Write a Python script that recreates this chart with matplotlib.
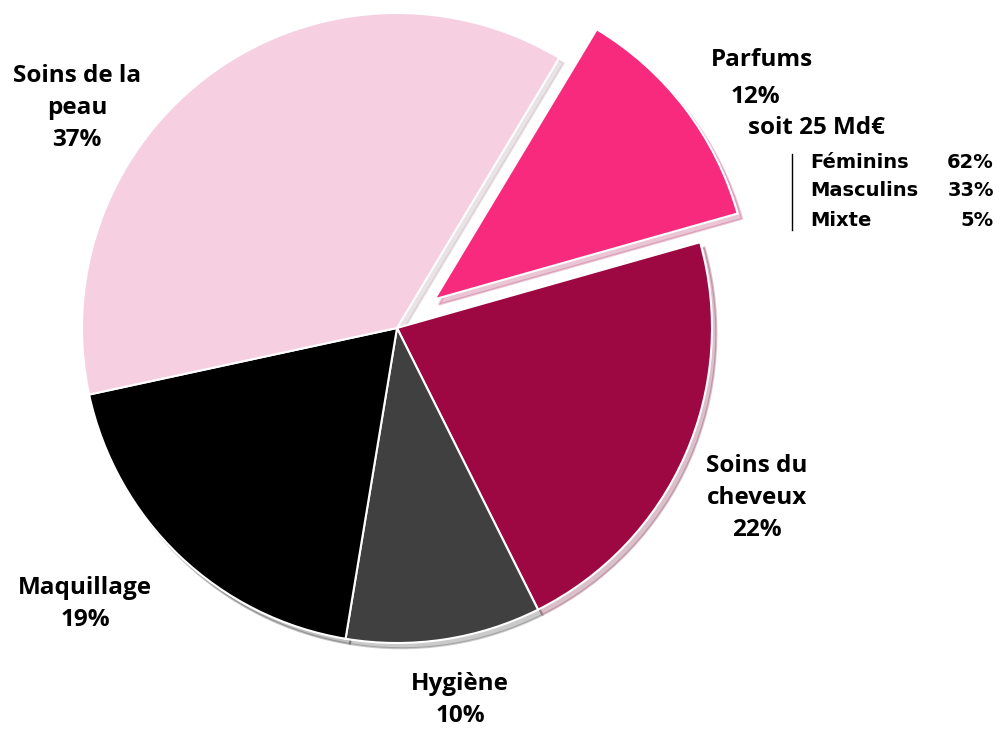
import matplotlib.pyplot as plt

# slices, clockwise from Parfums
labels = ['Parfums', 'Soins du\ncheveux', 'Hygiène', 'Maquillage', 'Soins de la\npeau']
shares = [12, 22, 10, 19, 37]
colors = ['#F72A7E', '#9E0842', '#404040', '#000000', '#F6CFE1']
explode = [0.15, 0, 0, 0, 0]

sub_labels = ['Féminins', 'Masculins', 'Mixte']
sub_shares = [62, 33, 5]

W, H = 1000, 729


def px(x, y):
    return x / W, 1 - y / H


fig = plt.figure(figsize=(10, 7.29), dpi=100)
cx, cy, r = 397, 328, 315
ax = fig.add_axes([(cx - r) / W, (H - cy - r) / H, 2 * r / W, 2 * r / H])
wedges, _ = ax.pie(shares, colors=colors, explode=explode, startangle=59,
                   counterclock=False, radius=1,
                   wedgeprops=dict(edgecolor='white', linewidth=1.5),
                   shadow=dict(ox=0.01, oy=-0.012, shade=0.3, alpha=0.25))
ax.set_xlim(-1, 1)
ax.set_ylim(-1, 1)
ax.set_aspect('equal')
ax.axis('off')

font = dict(family=['Open Sans', 'DejaVu Sans'], fontweight='bold', fontsize=17.5,
            ha='center', va='center', color='black', linespacing=1.45)

# main labels
fig.text(*px(77, 108), f'{labels[4]}\n{shares[4]}%', **font)
fig.text(*px(762, 60), labels[0], **font)
fig.text(*px(755, 97), f'{shares[0]}%', **font)
fig.text(*px(816, 128), 'soit 25 Md€', **font)
fig.text(*px(757, 498), f'{labels[1]}\n{shares[1]}%', **font)
fig.text(*px(460, 700), f'{labels[2]}\n{shares[2]}%', **font)
fig.text(*px(85, 604), f'{labels[3]}\n{shares[3]}%', **font)

# Parfums breakdown
sub_font = dict(family=['DejaVu Sans'], fontweight='bold', fontsize=14,
                va='center', color='black')
for i, (name, val) in enumerate(zip(sub_labels, sub_shares)):
    y = 162 + i * 29
    fig.text(*px(810, y), name, ha='left', **sub_font)
    fig.text(*px(994, y), f'{val}%', ha='right', **sub_font)
fig.add_artist(plt.Line2D([792 / W, 792 / W], [1 - 154 / H, 1 - 230 / H],
                          color='black', linewidth=1))

fig.savefig('out.png', dpi=100, facecolor='white')
